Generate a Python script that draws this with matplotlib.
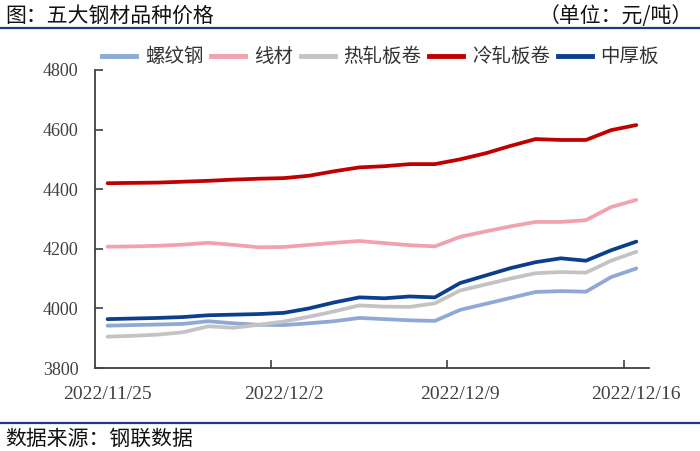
import matplotlib
matplotlib.use("Agg")
from matplotlib import pyplot as plt
from matplotlib.lines import Line2D

plt.rcParams['font.family'] = ['Noto Sans CJK SC', 'DejaVu Sans']

# daily prices, 2022/11/25 .. 2022/12/16 (yuan/ton)
dates = ['2022/11/25', '2022/11/26', '2022/11/27', '2022/11/28', '2022/11/29', '2022/11/30',
         '2022/12/1', '2022/12/2', '2022/12/3', '2022/12/4', '2022/12/5', '2022/12/6',
         '2022/12/7', '2022/12/8', '2022/12/9', '2022/12/10', '2022/12/11', '2022/12/12',
         '2022/12/13', '2022/12/14', '2022/12/15', '2022/12/16']
rebar = [3942, 3944, 3946, 3948, 3957, 3950, 3945, 3944, 3950, 3957, 3968,
         3964, 3960, 3958, 3995, 4015, 4035, 4055, 4058, 4056, 4105, 4134]
wire = [4207, 4208, 4210, 4214, 4220, 4213, 4205, 4206, 4213, 4220, 4226,
        4219, 4212, 4208, 4240, 4258, 4275, 4290, 4290, 4296, 4340, 4364]
hot_coil = [3905, 3908, 3912, 3920, 3940, 3935, 3945, 3956, 3972, 3990, 4010,
            4006, 4005, 4017, 4060, 4080, 4100, 4118, 4122, 4120, 4160, 4190]
cold_coil = [4420, 4421, 4422, 4425, 4428, 4432, 4435, 4437, 4445, 4460, 4473,
             4477, 4484, 4484, 4500, 4520, 4545, 4568, 4565, 4565, 4598, 4615]
plate = [3964, 3966, 3968, 3971, 3977, 3979, 3981, 3985, 4000, 4020, 4037,
         4034, 4040, 4037, 4085, 4110, 4135, 4155, 4168, 4160, 4195, 4224]

names = ['螺纹钢', '线材', '热轧板卷', '冷轧板卷', '中厚板']
colors = ['#8EA9D6', '#F2A2AF', '#C3C3C3', '#C00000', '#0B3F8E']
series = [rebar, wire, hot_coil, cold_coil, plate]

fig = plt.figure(figsize=(7, 4.51), dpi=100)
ax = fig.add_axes([0.1357, 0.184, 0.7913, 0.661])

x = list(range(len(dates)))
for vals, c, n in zip(series, colors, names):
    ax.plot(x, vals, color=c, lw=2.7, label=n, solid_joinstyle='round', solid_capstyle='round')

ax.set_xlim(-0.5, len(dates) - 0.5)
ax.set_ylim(3800, 4800)
ax.set_yticks(range(3800, 4801, 200))

# ticks sit between categories, labels on every 7th day
ax.set_xticks([6.5, 13.5, 20.5])
ax.set_xticklabels([])
ax.set_xticks([0, 7, 14, 21], minor=True)
ax.set_xticklabels([dates[i] for i in [0, 7, 14, 21]], minor=True)
ax.tick_params(axis='x', which='major', direction='in', length=6, width=1.2, color='#404040')
ax.tick_params(axis='x', which='minor', length=0, pad=13, labelsize=14, labelcolor='#404040')
ax.tick_params(axis='y', direction='in', length=6, width=1.2, color='#404040',
               pad=12, labelsize=13, labelcolor='#404040')
for lab in ax.get_xticklabels(minor=True) + ax.get_yticklabels():
    lab.set_family('Liberation Serif')

for s in ['top', 'right']:
    ax.spines[s].set_visible(False)
for s in ['left', 'bottom']:
    ax.spines[s].set_color('#404040')
    ax.spines[s].set_linewidth(1.3)

handles = [Line2D([], [], color=c, lw=3.5) for c in colors]
fig.legend(handles, names, loc='center', bbox_to_anchor=(0.5436, 0.874), ncol=5,
           frameon=False, fontsize=14, handlelength=1.75, handletextpad=0.45,
           columnspacing=0.4, labelcolor='#333333')

# header and footer
fig.text(0.008, 0.964, '图：五大钢材品种价格', fontsize=15, va='center', ha='left', color='#111111')
fig.text(0.99, 0.964, '（单位：元/吨）', fontsize=15, va='center', ha='right', color='#111111')
fig.add_artist(Line2D([0, 1], [0.939, 0.939], color='#1F3A80', lw=1.6, transform=fig.transFigure))
fig.add_artist(Line2D([0, 1], [0.062, 0.062], color='#1F3A80', lw=1.6, transform=fig.transFigure))
fig.text(0.008, 0.028, '数据来源：钢联数据', fontsize=15, va='center', ha='left', color='#111111')

fig.savefig('out.png', dpi=100)
